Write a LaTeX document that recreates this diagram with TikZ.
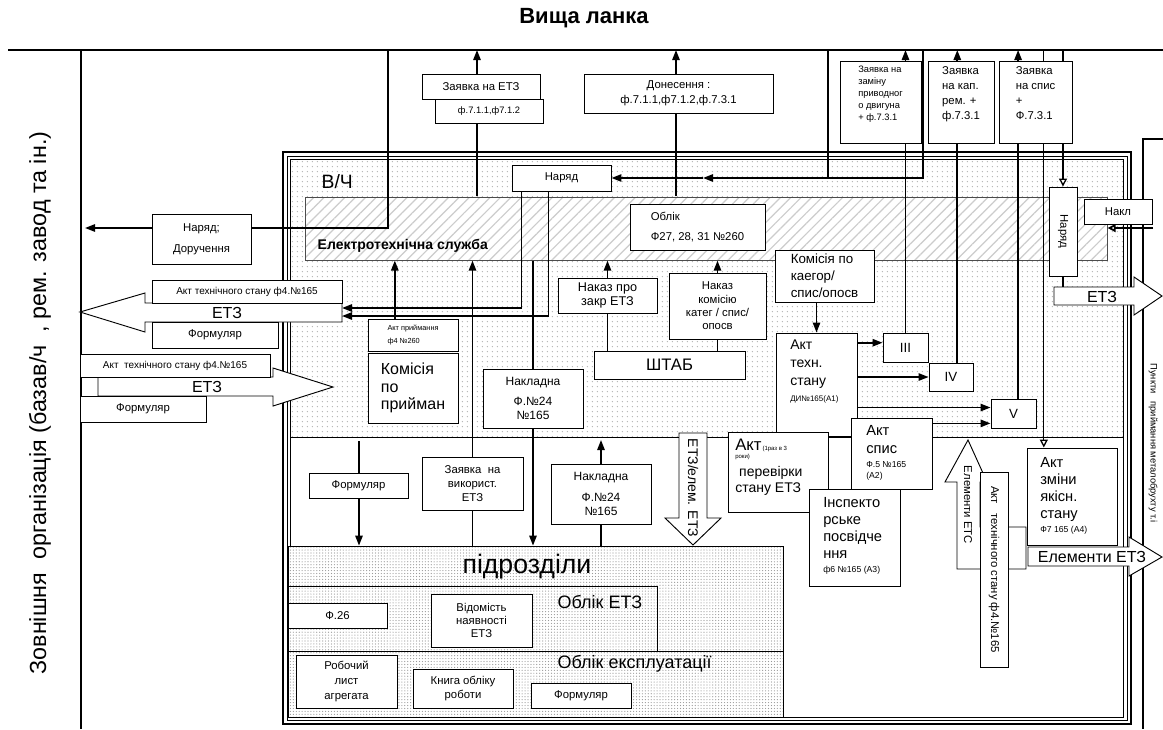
\documentclass[tikz,border=0pt]{standalone}
\usepackage{fontspec}
\setmainfont{Liberation Sans}
\usetikzlibrary{arrows.meta,fit,calc,patterns.meta}
\pgfdeclarelayer{back}
\pgfdeclarelayer{mid}
\pgfsetlayers{back,mid,main}
\tikzset{
  box/.style={draw, fill=white, inner sep=0pt, line width=0.7pt, align=center, font=\fontsize{8.5}{11}\selectfont},
  span/.style n args={4}{minimum width={(#3-#1)*0.75pt}, minimum height={(#4-#2)*0.75pt}, at={({(#1+#3)/2},{(#2+#4)/2})}},
  conn/.style={line width=1.3pt},
  arr/.style={conn, -{Triangle[length=7.5pt,width=5.5pt]}},
  oarr/.style={line width=1pt, -{Triangle[length=6pt,width=6pt,fill=white]}},
  blockarrow/.style={draw, fill=white, line width=0.7pt},
  txt/.style={inner sep=0pt, align=left, anchor=north west},
}
\begin{document}
\begin{tikzpicture}[x=0.75pt,y=0.75pt,yscale=-1,xscale=1]
\useasboundingbox (0,0) rectangle (1163,729);
\coordinate (top) at (0,50);

% frame, zones
\begin{pgfonlayer}{back}
\fill[white] (0,0) rectangle (1163,729);
\draw[line width=1.6pt] (283,152) rectangle (1131,724);
\draw[line width=0.5pt] (287,156) rectangle (1127,720);
\draw[line width=0.5pt, pattern={Dots[distance=4pt,radius=0.55pt]}, pattern color=gray!60] (290,159) rectangle (1123,437);
\draw[line width=0.5pt] (290,437) rectangle (1123,717);
\node[fit={(305,197) (1107,260)}, inner sep=0pt, draw=black!70, line width=0.5pt, preaction={fill=white}, pattern={Lines[angle=45,distance=5.5pt,line width=0.9pt]}, pattern color=gray!40] (sluzhba) {};
\node[fit={(288,546) (783,717)}, inner sep=0pt, draw, line width=0.6pt, preaction={fill=white}, pattern={Dots[distance=2.2pt,radius=0.45pt]}, pattern color=gray!80] (pidrozdily) {};
\draw[line width=0.6pt] (288,586) rectangle (657,651) (657,651) -- (783,651);
\draw[line width=1.4pt] (8,50) -- (1163,50);
\draw[line width=0.9pt] (81,50) -- (81,729);
\draw[line width=0.8pt] (1163,139) -- (1143,139) -- (1143,729);
\end{pgfonlayer}

\node[font=\bfseries\fontsize{16.5}{19}\selectfont] (vyshcha) at (584,18) {Вища ланка};
\node[rotate=90, font=\fontsize{17.5}{20}\selectfont] (zovnishnia) at (40,403) {Зовнішня \ організація (базав/ч \ , рем. завод та ін.)};
\node[font=\fontsize{14.5}{16}\selectfont, anchor=west] (vch) at (317,182) {В/Ч};
\node[font=\bfseries\fontsize{10.5}{13}\selectfont, anchor=west] (sluzhbaT) at (313,246) {Електротехнічна служба};
\node[font=\fontsize{20}{22}\selectfont] (pidrozdilyT) at (527,567) {підрозділи};
\node[font=\fontsize{13.5}{15}\selectfont, anchor=west] (oblikEtzT) at (553,602) {Облік ЕТЗ};
\node[font=\fontsize{13.5}{15}\selectfont, anchor=west] (oblikExplT) at (553,664) {Облік експлуатації};
\node[rotate=-90, font=\fontsize{7}{9}\selectfont] (punktyT) at (1153,443) {Пункти \ \ приймання металобрухту т.і};

% block arrows
\draw[blockarrow] (342,303) -- (145,303) -- (145,293) -- (80,312) -- (145,332) -- (145,322) -- (342,322) -- cycle;
\node[font=\fontsize{12}{14}\selectfont] (etzA) at (227,313) {ЕТЗ};
\draw[blockarrow] (98,377) -- (273,377) -- (273,368) -- (333,387) -- (273,406) -- (273,396) -- (98,396) -- cycle;
\node[font=\fontsize{12}{14}\selectfont] (etzB) at (207,387) {ЕТЗ};
\draw[blockarrow] (1054,287) -- (1134,287) -- (1134,277) -- (1162,296) -- (1134,315) -- (1134,305) -- (1054,305) -- cycle;
\node[font=\fontsize{12}{14}\selectfont] (etzC) at (1102,297) {ЕТЗ};
\draw[blockarrow] (679,433) -- (679,518) -- (665,518) -- (693,545) -- (721,518) -- (707,518) -- (707,433) -- cycle;
\node[rotate=-90, font=\fontsize{10.5}{12}\selectfont] (etzD) at (693,488) {ЕТЗ/елем. ЕТЗ};
\draw[blockarrow] (968,440) -- (987,482) -- (980,482) -- (980,527) -- (1026,527) -- (1026,569) -- (957,569) -- (957,482) -- (945,482) -- cycle;
\node[rotate=-90, font=\fontsize{8.5}{10}\selectfont] (etsT) at (968,505) {Елементи ЕТС};
\draw[blockarrow] (1028,547) -- (1129,547) -- (1129,537) -- (1162,557) -- (1129,576) -- (1129,566) -- (1028,566) -- cycle;
\node[font=\fontsize{12}{14}\selectfont] (elEtzT) at (1092,557) {Елементи ЕТЗ};

% top row
\node[box, span={422}{74}{540}{99}] (zayavka) {Заявка на ЕТЗ};
\node[box, span={435}{99}{543}{123}, font=\fontsize{7}{9}\selectfont] (zayavkaF) {ф.7.1.1,ф7.1.2};
\node[box, span={584}{74}{773}{113}, font=\fontsize{8.5}{11}\selectfont] (donesennya) {Донесення :\\ф.7.1.1,ф7.1.2,ф.7.3.1};
\node[box, span={840}{61}{921}{143}, align=left, font=\fontsize{7}{9}\selectfont] (zamina) {Заявка на\\заміну\\приводног\\о двигуна\\+ ф.7.3.1\\[4pt]};
\node[box, span={928}{61}{994}{143}, align=left, font=\fontsize{8.5}{11.3}\selectfont] (kapRem) {Заявка\\на кап.\\рем. +\\ф.7.3.1\\[2pt]};
\node[box, span={999}{61}{1072}{143}, align=left, font=\fontsize{8.5}{11.3}\selectfont] (spys) {Заявка\\на спис\\+\\Ф.7.3.1\\[2pt]};

% v/ch
\node[box, span={512}{165}{611}{191}] (naryad) {Наряд};
\node[box, span={152}{214}{251}{264}, font=\fontsize{8.5}{16}\selectfont] (naryadDor) {Наряд;\\Доручення};
\node[box, span={630}{204}{765}{250}, align=left, font=\fontsize{8.5}{15}\selectfont] (oblik) {Облік\\Ф27, 28, 31 №260};
\node[box, span={152}{280}{342}{303}, font=\fontsize{7.5}{9}\selectfont] (aktTechA) {Акт технічного стану ф4.№165};
\node[box, span={152}{322}{278}{348}] (formA) {Формуляр};
\node[box, span={80}{354}{270}{377}, font=\fontsize{7.5}{9}\selectfont] (aktTechB) {Акт \ технічного стану ф4.№165};
\node[box, span={80}{396}{206}{422}] (formB) {Формуляр};
\node[box, span={368}{319}{458}{351}, align=left, font=\fontsize{5.5}{10}\selectfont] (aktPr) {Акт приймання\\ф4 №260};
\node[box, span={368}{353}{458}{423}, align=left, font=\fontsize{12}{13}\selectfont] (komPr) {Комісія\\ по\\прийман};
\node[box, span={483}{369}{583}{428}, font=\fontsize{9}{10.5}\selectfont] (nakladnaA) {Накладна\\[4pt]Ф.№24\\№165};
\node[box, span={558}{278}{657}{313}, font=\fontsize{9.5}{11}\selectfont] (nakazZ) {Наказ про\\закр ЕТЗ};
\node[box, span={669}{273}{766}{339}, font=\fontsize{8.5}{10}\selectfont] (nakazK) {Наказ\\комісію\\катег / спис/\\опосв};
\node[box, span={594}{351}{745}{379}, font=\fontsize{12.5}{14}\selectfont] (shtab) {ШТАБ};
\node[box, span={775}{250}{874}{302}, align=left, font=\fontsize{10}{12.75}\selectfont] (komKat) {Комісія по\\каегор/\\спис/опосв};
\node[box, span={776}{333}{857}{436}] (aktTS) {};
\node[txt, font=\fontsize{10.5}{13.5}\selectfont] (aktTST) at (790,340) {Акт\\ техн.\\ стану\\[-2pt]{\fontsize{6}{8}\selectfont ДИ№165(А1)}};
\node[box, span={883}{333}{928}{362}, font=\fontsize{10}{12}\selectfont] (III) {III};
\node[box, span={929}{363}{973}{391}, font=\fontsize{10}{12}\selectfont] (IV) {IV};
\node[box, span={991}{399}{1036}{428}, font=\fontsize{10}{12}\selectfont] (V) {V};
\node[box, span={1049}{187}{1077}{276}] (naryadV) {};
\node[rotate=-90, font=\fontsize{8.5}{10}\selectfont] (naryadVT) at (naryadV.center) {Наряд};
\node[box, span={1084}{199}{1152}{224}] (nakl) {Накл};

% lower part
\node[box, span={728}{432}{828}{512}] (aktPerev) {};
\node[txt, font=\fontsize{10.5}{12.5}\selectfont] (aktPerevT) at (735,439) {{\fontsize{12.5}{13}\selectfont Акт}{\fontsize{4.5}{5}\selectfont\,(1раз в 3}\\[-7pt]{\fontsize{4.5}{5}\selectfont роки)}\\[1pt]\ перевірки\\стану ЕТЗ};
\node[box, span={851}{418}{932}{489}] (aktSpys) {};
\node[txt, font=\fontsize{11}{13.5}\selectfont] (aktSpysT) at (866,425) {Акт\\спис\\[-3pt]{\fontsize{6.5}{8}\selectfont Ф.5 №165}\\[-5pt]{\fontsize{6.5}{8}\selectfont (А2)}};
\node[box, span={809}{489}{900}{586}] (inspector) {};
\node[txt, font=\fontsize{11}{12.75}\selectfont] (inspT) at (823,497) {Інспекто\\ рське\\посвідче\\ ння\\[-2pt]{\fontsize{6.5}{8}\selectfont ф6 №165 (А3)}};
\node[box, span={980}{472}{1008}{667}] (aktTSv) {};
\node[rotate=-90, font=\fontsize{8.5}{10}\selectfont] (aktTSvT) at (aktTSv.center) {Акт \ \ технічного стану ф4.№165};
\node[box, span={1027}{448}{1117}{545}] (aktZm) {};
\node[txt, font=\fontsize{11}{12.75}\selectfont] (aktZmT) at (1040,457) {Акт\\ зміни\\якісн.\\стану\\[-2pt]{\fontsize{6.5}{8}\selectfont Ф7 165 (А4)}};
\node[box, span={309}{473}{408}{498}] (formC) {Формуляр};
\node[box, span={422}{457}{523}{510}, font=\fontsize{8.5}{10.5}\selectfont] (zayavkaV) {Заявка \ на\\використ.\\ЕТЗ};
\node[box, span={551}{464}{651}{524}, font=\fontsize{9}{10.5}\selectfont] (nakladnaB) {Накладна\\[5pt]Ф.№24\\№165};
\node[box, span={288}{603}{387}{628}] (f26) {Ф.26};
\node[box, span={431}{594}{532}{647}, font=\fontsize{8.5}{10}\selectfont] (vidomist) {Відомість\\наявності\\ЕТЗ};
\node[box, span={296}{655}{397}{708}, font=\fontsize{8.5}{11}\selectfont] (robochyi) {Робочий\\лист\\агрегата};
\node[box, span={413}{669}{513}{708}, font=\fontsize{8.5}{11}\selectfont] (knyga) {Книга обліку\\роботи};
\node[box, span={531}{683}{631}{708}] (formD) {Формуляр};

% connectors
\begin{pgfonlayer}{mid}
\coordinate (narTop) at (388,50);
\coordinate (narExt) at (85,228);
\draw[arr] (narTop) |- (narExt);
\coordinate (zayTop) at (477,50);
\draw[arr] (sluzhba.north -| zayTop) -- (zayTop);
\coordinate (donTop) at (676,50);
\draw[arr] (sluzhba.north -| donTop) -- (donTop);
\coordinate (narA) at (828,50);
\coordinate (narB) at (923,50);
\coordinate (narMid) at (703,178);
\draw[conn] (narA) -- (narA |- narMid);
\draw[arr] (narB) |- (narMid);
\draw[arr] (narMid) -- (naryad.east);
\coordinate (etzIn1) at (342,308);
\coordinate (etzIn2) at (342,316);
\draw[arr] ($(naryad.south west)!0.1!(naryad.south east)$) |- (etzIn1);
\draw[arr] ($(naryad.south west)!0.37!(naryad.south east)$) |- (etzIn2);
\coordinate (prUp) at ($(aktPr.north west)!0.3!(aktPr.north east)$);
\draw[arr] (prUp) -- (prUp |- sluzhba.south);
\draw[arr] (pidrozdily.north -| zayavkaV) -- (sluzhba.south -| zayavkaV);
\draw[arr] (sluzhba.south -| nakladnaA) -- (pidrozdily.north -| nakladnaA);
\coordinate (formCtop) at (359,441);
\draw[arr] (formCtop) -- (formCtop |- pidrozdily.north);
\coordinate (nakBtip) at (601,440);
\draw[arr] (nakBtip |- pidrozdily.north) -- (nakBtip);
\draw[arr] (shtab.north -| nakazZ) -- (sluzhba.south -| nakazZ);
\draw[arr] (shtab.north -| nakazK) -- (sluzhba.south -| nakazK);
\draw[arr] (komKat.south -| aktTS.north) -- (aktTS.north);
\coordinate (iiiIn) at ($(III.north west)!0.34!(III.south west)$);
\draw[arr] (aktTS.east |- iiiIn) -- (iiiIn);
\draw[arr] (aktTS.east |- IV.west) -- (IV.west);
\coordinate (vIn1) at ($(V.north west)!0.3!(V.south west)$);
\coordinate (vIn2) at ($(V.north west)!0.83!(V.south west)$);
\draw[arr] (aktTS.east |- vIn1) -- (vIn1);
\draw[arr] (aktSpys.east |- vIn2) -- (vIn2);
\draw[arr] (III.north) -- (III.north |- top);
\coordinate (ivUp) at ($(IV.north west)!0.64!(IV.north east)$);
\draw[arr] (ivUp) -- (ivUp |- top);
\coordinate (vUp) at ($(V.north west)!0.6!(V.north east)$);
\draw[arr] (vUp) -- (vUp |- top);
\coordinate (zmIn) at ($(aktZm.north west)!0.19!(aktZm.north east)$);
\draw[oarr] (zmIn |- top) -- (zmIn);
\draw[oarr] (naryadV.north |- top) -- (naryadV.north);
\coordinate (etzCtop) at (1062,287);
\draw[conn] (naryadV.south) -- (naryadV.south |- etzCtop);
\coordinate (naklSrc) at (1153,228);
\draw[oarr, line width=1.3pt] (naklSrc) -- (naklSrc -| sluzhba.east);
\end{pgfonlayer}
\end{tikzpicture}
\end{document}
